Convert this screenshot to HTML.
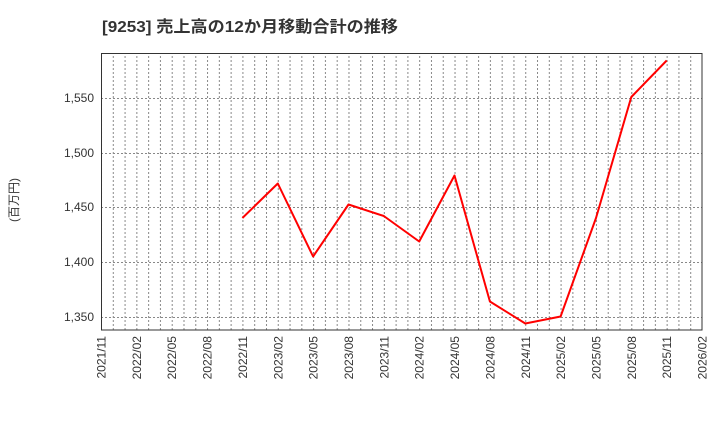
<!DOCTYPE html>
<html><head><meta charset="utf-8"><style>body{margin:0;background:#fff}svg{display:block}</style></head><body>
<svg width="720" height="440" xmlns="http://www.w3.org/2000/svg" font-family="'Liberation Sans','Noto Sans CJK JP',sans-serif">
<defs>
<pattern id="vg" x="101" y="0" width="11.7843" height="440" patternUnits="userSpaceOnUse">
<line x1="0.5" y1="0" x2="0.5" y2="440" stroke="#888" stroke-width="1" stroke-dasharray="2,2"/>
</pattern>
</defs>
<text x="102" y="32" font-size="16" font-weight="bold" fill="#333" textLength="296" lengthAdjust="spacingAndGlyphs">[9253]  売上高の12か月移動合計の推移</text>
<rect x="101" y="53" width="601" height="277" fill="url(#vg)"/>
<g stroke="#888" stroke-dasharray="2,2" stroke-width="1">
<line x1="101" y1="98.5" x2="702" y2="98.5"/>
<line x1="101" y1="153.5" x2="702" y2="153.5"/>
<line x1="101" y1="207.5" x2="702" y2="207.5"/>
<line x1="101" y1="262.5" x2="702" y2="262.5"/>
<line x1="101" y1="317.5" x2="702" y2="317.5"/>
</g>
<rect x="101.5" y="53.5" width="600.5" height="276.5" fill="none" stroke="#333" stroke-width="1"/>
<g font-size="12" fill="#333" text-anchor="end">
<text x="94" y="102">1,550</text>
<text x="94" y="157">1,500</text>
<text x="94" y="211">1,450</text>
<text x="94" y="266">1,400</text>
<text x="94" y="321">1,350</text>
</g>
<text transform="translate(18,200) rotate(-90)" font-size="12" fill="#333" text-anchor="middle">(百万円)</text>
<g font-size="12" fill="#333" text-anchor="end">
<text transform="translate(105.5,336) rotate(-90)">2021/11</text>
<text transform="translate(140.9,336) rotate(-90)">2022/02</text>
<text transform="translate(176.2,336) rotate(-90)">2022/05</text>
<text transform="translate(211.6,336) rotate(-90)">2022/08</text>
<text transform="translate(246.9,336) rotate(-90)">2022/11</text>
<text transform="translate(282.3,336) rotate(-90)">2023/02</text>
<text transform="translate(317.6,336) rotate(-90)">2023/05</text>
<text transform="translate(353,336) rotate(-90)">2023/08</text>
<text transform="translate(388.4,336) rotate(-90)">2023/11</text>
<text transform="translate(423.7,336) rotate(-90)">2024/02</text>
<text transform="translate(459.1,336) rotate(-90)">2024/05</text>
<text transform="translate(494.4,336) rotate(-90)">2024/08</text>
<text transform="translate(529.8,336) rotate(-90)">2024/11</text>
<text transform="translate(565.1,336) rotate(-90)">2025/02</text>
<text transform="translate(600.5,336) rotate(-90)">2025/05</text>
<text transform="translate(635.9,336) rotate(-90)">2025/08</text>
<text transform="translate(671.2,336) rotate(-90)">2025/11</text>
<text transform="translate(706.5,336) rotate(-90)">2026/02</text>
</g>
<polyline fill="none" stroke="#f00" stroke-width="2" stroke-linejoin="round" points="242.4,218 277.8,183.5 313.1,256.5 348.5,204.5 383.8,216 419.2,241.5 454.5,175.5 489.9,301.5 525.3,323.5 560.6,316.5 596,218 631.3,97 666.7,60.5"/>
</svg>
</body></html>
